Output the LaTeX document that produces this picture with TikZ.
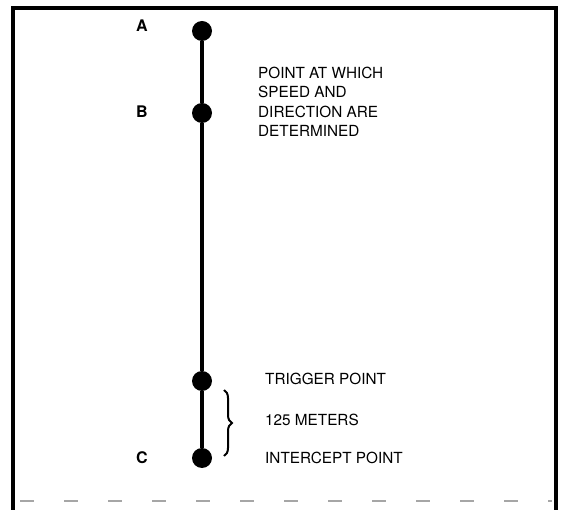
\documentclass[tikz,border=0pt]{standalone}
\usepackage{fontspec}
\setmainfont{TeX Gyre Heros}
\usetikzlibrary{decorations.pathreplacing,positioning}

\begin{document}
\begin{tikzpicture}[
x=1pt, y=-1pt,
station/.style={circle, fill=black, inner sep=0pt, minimum size=20pt},
rod/.style={line width=4.5pt, draw=black},
letter/.style={font=\fontsize{16}{18}\selectfont\bfseries, inner sep=0pt, anchor=base},
caption/.style={font=\fontsize{15.3}{19.5}\selectfont, inner sep=0pt, anchor=base west, align=left},
brace/.style={decorate, decoration={brace, amplitude=8pt}, line width=2pt},
frame/.style={line width=4pt, draw=black}
]
\useasboundingbox (0,0) rectangle (565,510);
\draw[frame] (13,510) -- (13,8) -- (556,8) -- (556,510);
\draw[black!35, line width=1.2pt, dash pattern=on 14pt off 30pt] (20,501) -- (552,501);

\node[station] (a) at (202,31) {};
\node[station] (b) at (202,113) {};
\node[station] (trigger) at (202,381) {};
\node[station] (c) at (202,458) {};

\node[letter] (alabel) at (142,32) {A};
\node[letter] (blabel) at (142,118) {B};
\node[letter] (clabel) at (142,463) {C};

\draw[rod] (a) -- (b);
\draw[rod] (b) -- (trigger);
\draw[rod] (trigger) -- (c);

\node[caption] (determined) at (258,137) {POINT AT WHICH\\SPEED AND\\DIRECTION ARE\\DETERMINED};
\node[caption] (triggertext) at (265,385) {TRIGGER POINT};
\node[caption] (distance) at (265,425) {125 METERS};
\node[caption] (intercept) at (265,463) {INTERCEPT POINT};

\coordinate (bracetop) at (224,390);
\coordinate (bracebottom) at (224,456);
\draw[brace] (bracetop) -- (bracebottom);
\end{tikzpicture}
\end{document}
